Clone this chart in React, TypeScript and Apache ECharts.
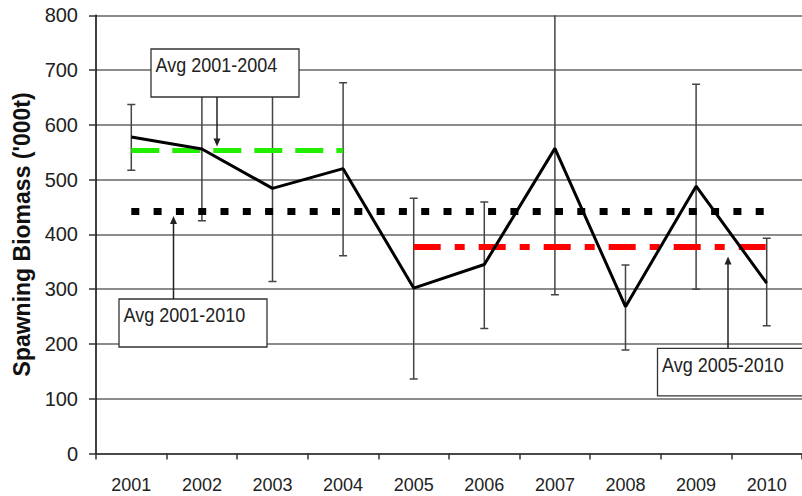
import React, { useEffect, useRef } from "react";
import * as echarts from "echarts";

const years = ["2001", "2002", "2003", "2004", "2005", "2006", "2007", "2008", "2009", "2010"];
const biomass = [578, 556, 484, 520, 302, 345, 557, 268, 488, 311];
const errLow = [517, 425, 314, 361, 136, 228, 290, 189, 300, 233];
const errHigh = [637, 700, 690, 677, 466, 459, 830, 344, 674, 393];
const avg2001to2004 = 553;
const avg2001to2010 = 442;
const avg2005to2010 = 377;
const yTicks = { min: 0, max: 800, interval: 100 };
const annotations = ["Avg 2001-2004", "Avg 2001-2010", "Avg 2005-2010"];

const FONT = "'Liberation Sans', Arial, sans-serif";

export default function App() {
  const ref = useRef<HTMLDivElement>(null);
  useEffect(() => {
    const chart = echarts.init(ref.current!, null, { renderer: "svg" });
    const green = years.map((_, i) => (i <= 3 ? avg2001to2004 : null));
    const black = years.map(() => avg2001to2010);
    const red = years.map((_, i) => (i >= 4 ? avg2005to2010 : null));
    const errData = years.map((_, i) => [i, errLow[i], errHigh[i]]);

    chart.setOption({
      animation: false,
      backgroundColor: "#ffffff",
      grid: { left: 96, right: -9, top: 15.3, bottom: 42.5, containLabel: false },
      xAxis: {
        type: "category",
        data: years,
        boundaryGap: true,
        axisLine: { lineStyle: { color: "#333", width: 1.6 } },
        axisTick: { show: true, length: 6, inside: false, lineStyle: { color: "#333", width: 1.5 } },
        axisLabel: { color: "#222", fontSize: 18, fontFamily: FONT, margin: 22 },
        splitLine: { show: false },
      },
      yAxis: {
        type: "value",
        min: yTicks.min,
        max: yTicks.max,
        interval: yTicks.interval,
        name: "Spawning Biomass ('000t)",
        nameLocation: "middle",
        nameGap: 62,
        nameRotate: 90,
        nameTextStyle: { color: "#111", fontSize: 23, fontWeight: "bold", fontFamily: FONT },
        axisLine: { show: true, lineStyle: { color: "#111", width: 1.6 } },
        axisTick: { show: true, length: 7, lineStyle: { color: "#333", width: 1.5 } },
        axisLabel: { color: "#222", fontSize: 20, fontFamily: FONT, margin: 18 },
        splitLine: { show: true, lineStyle: { color: "#666", width: 1.5 } },
      },
      series: [
        {
          type: "custom",
          name: "error",
          z: 3,
          clip: true,
          encode: { x: 0, y: [1, 2] },
          data: errData,
          renderItem: (params: any, api: any) => {
            const idx = api.value(0);
            const lo = api.coord([idx, api.value(1)]);
            const hi = api.coord([idx, api.value(2)]);
            const x = lo[0];
            const hw = 4;
            const st = { stroke: "#444", lineWidth: 1.5 };
            return {
              type: "group",
              children: [
                { type: "line", shape: { x1: x, y1: lo[1], x2: x, y2: hi[1] }, style: st },
                { type: "line", shape: { x1: x - hw, y1: lo[1], x2: x + hw, y2: lo[1] }, style: st },
                { type: "line", shape: { x1: x - hw, y1: hi[1], x2: x + hw, y2: hi[1] }, style: st },
              ],
            };
          },
        },
        {
          type: "line",
          name: "avg0104",
          data: green,
          z: 4,
          symbol: "none",
          lineStyle: { color: "#22ee00", width: 5, type: [28, 13], cap: "butt" },
        },
        {
          type: "line",
          name: "avg0110",
          data: black,
          z: 4,
          symbol: "none",
          lineStyle: { color: "#000", width: 7, type: [8, 14.3], cap: "butt" },
        },
        {
          type: "line",
          name: "avg0510",
          data: red,
          z: 4,
          symbol: "none",
          lineStyle: { color: "#ff0000", width: 6, type: [27, 14, 10, 14], cap: "butt" },
        },
        {
          type: "line",
          name: "biomass",
          data: biomass,
          z: 5,
          symbol: "none",
          lineStyle: { color: "#000", width: 3 },
        },
      ],
    });

    const yPix = (v: number) => chart.convertToPixel({ yAxisIndex: 0 }, v) as number;
    const boxStyle = { fill: "#fff", stroke: "#333", lineWidth: 1.3 };
    const textStyle = (t: string) => ({ text: t, fill: "#222", fontSize: 18, fontFamily: FONT, align: "left", verticalAlign: "middle" });
    const box = (x: number, y: number, w: number, h: number, t: string) => [
      { type: "rect", z: 100, shape: { x, y, width: w, height: h }, style: boxStyle },
      { type: "text", z: 101, x: x + 4.5, y: y + 16, scaleY: 1.15, style: textStyle(t) },
    ];
    const arrow = (x: number, yFrom: number, yTip: number) => {
      const dir = yTip > yFrom ? 1 : -1;
      return [
        { type: "line", z: 100, shape: { x1: x, y1: yFrom, x2: x, y2: yTip - dir * 6 }, style: { stroke: "#222", lineWidth: 1.5 } },
        {
          type: "polygon",
          z: 100,
          shape: { points: [[x, yTip], [x - 3.5, yTip - dir * 8], [x + 3.5, yTip - dir * 8]] },
          style: { fill: "#222" },
        },
      ];
    };
    chart.setOption({
      graphic: [
        ...box(151, 49, 148, 48, annotations[0]),
        ...box(119, 299, 148, 48, annotations[1]),
        ...box(657.5, 348.3, 160, 47.5, annotations[2]),
        ...arrow(217, 97, yPix(avg2001to2004) - 4),
        ...arrow(173.5, 299, yPix(avg2001to2010) + 4.5),
        ...arrow(728, 348.3, yPix(avg2005to2010) + 9.5),
      ],
    });
    return () => chart.dispose();
  }, []);
  return <div ref={ref} style={{ position: "absolute", left: 0, top: 0, width: 802, height: 496 }} />;
}
